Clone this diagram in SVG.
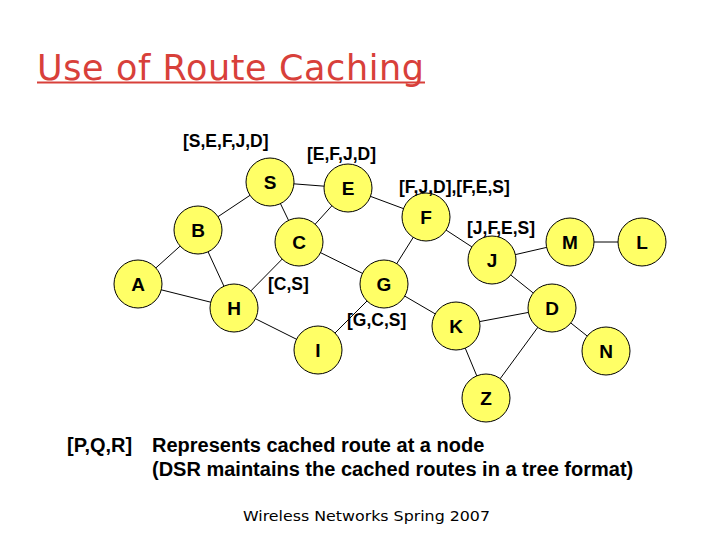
<svg xmlns="http://www.w3.org/2000/svg" width="720" height="540" viewBox="0 0 720 540">
<style>
.edge{stroke:#000;stroke-width:1}
.node circle{fill:#ffff66;stroke:#000;stroke-width:1}
.node text{font-family:"Liberation Sans",Arial,sans-serif;font-weight:bold;font-size:19px;text-anchor:middle;fill:#000}
.lbl{font-family:"Liberation Sans",Arial,sans-serif;font-weight:bold;font-size:17.5px;fill:#000}
.note{font-family:"Liberation Sans",Arial,sans-serif;font-weight:bold;font-size:20px;fill:#000}
</style>
<rect width="720" height="540" fill="#fff"/>
<text x="37" y="80" font-family="DejaVu Sans,Verdana,sans-serif" font-size="35" fill="#d8403a" textLength="387" lengthAdjust="spacing">Use of Route Caching</text>
<rect x="37" y="81.5" width="388" height="2" fill="#d8403a"/>
<g id="connectors" class="edge">
<line x1="270" y1="182" x2="348" y2="188"/>
<line x1="270" y1="182" x2="198" y2="230"/>
<line x1="270" y1="182" x2="299" y2="242"/>
<line x1="348" y1="188" x2="299" y2="242"/>
<line x1="348" y1="188" x2="426" y2="217"/>
<line x1="198" y1="230" x2="138" y2="284"/>
<line x1="198" y1="230" x2="234" y2="308"/>
<line x1="138" y1="284" x2="234" y2="308"/>
<line x1="234" y1="308" x2="299" y2="242"/>
<line x1="234" y1="308" x2="318" y2="350"/>
<line x1="299" y1="242" x2="384" y2="284"/>
<line x1="426" y1="217" x2="384" y2="284"/>
<line x1="426" y1="217" x2="492" y2="260"/>
<line x1="492" y1="260" x2="570" y2="242"/>
<line x1="570" y1="242" x2="642" y2="242"/>
<line x1="492" y1="260" x2="552" y2="308"/>
<line x1="384" y1="284" x2="456" y2="326"/>
<line x1="318" y1="350" x2="384" y2="284"/>
<line x1="456" y1="326" x2="552" y2="308"/>
<line x1="552" y1="308" x2="606" y2="351"/>
<line x1="456" y1="326" x2="486" y2="398"/>
<line x1="552" y1="308" x2="486" y2="398"/>
</g>
<g id="node-S" class="node"><circle cx="270" cy="182" r="24"/><text x="270" y="189">S</text></g>
<g id="node-E" class="node"><circle cx="348" cy="188" r="24"/><text x="348" y="195">E</text></g>
<g id="node-F" class="node"><circle cx="426" cy="217" r="24"/><text x="426" y="224">F</text></g>
<g id="node-B" class="node"><circle cx="198" cy="230" r="24"/><text x="198" y="237">B</text></g>
<g id="node-C" class="node"><circle cx="299" cy="242" r="24"/><text x="299" y="249">C</text></g>
<g id="node-J" class="node"><circle cx="492" cy="260" r="24"/><text x="492" y="267">J</text></g>
<g id="node-M" class="node"><circle cx="570" cy="242" r="24"/><text x="570" y="249">M</text></g>
<g id="node-L" class="node"><circle cx="642" cy="242" r="24"/><text x="642" y="249">L</text></g>
<g id="node-A" class="node"><circle cx="138" cy="284" r="24"/><text x="138" y="291">A</text></g>
<g id="node-G" class="node"><circle cx="384" cy="284" r="24"/><text x="384" y="291">G</text></g>
<g id="node-H" class="node"><circle cx="234" cy="308" r="24"/><text x="234" y="315">H</text></g>
<g id="node-D" class="node"><circle cx="552" cy="308" r="24"/><text x="552" y="315">D</text></g>
<g id="node-K" class="node"><circle cx="456" cy="326" r="24"/><text x="456" y="333">K</text></g>
<g id="node-I" class="node"><circle cx="318" cy="350" r="24"/><text x="318" y="357">I</text></g>
<g id="node-N" class="node"><circle cx="606" cy="351" r="24"/><text x="606" y="358">N</text></g>
<g id="node-Z" class="node"><circle cx="486" cy="398" r="24"/><text x="486" y="405">Z</text></g>
<g id="labels">
<text class="lbl" x="183" y="147">[S,E,F,J,D]</text>
<text class="lbl" x="307" y="160">[E,F,J,D]</text>
<text class="lbl" x="399" y="193">[F,J,D],[F,E,S]</text>
<text class="lbl" x="467" y="234">[J,F,E,S]</text>
<text class="lbl" x="268" y="290">[C,S]</text>
<text class="lbl" x="347" y="326">[G,C,S]</text>
</g>
<text class="note" x="67" y="452">[P,Q,R]</text>
<text class="note" x="152" y="452">Represents cached route at a node</text>
<text class="note" x="152" y="476">(DSR maintains the cached routes in a tree format)</text>
<text x="243" y="521" font-family="DejaVu Sans,Verdana,sans-serif" font-size="14.5" fill="#000" textLength="247" lengthAdjust="spacingAndGlyphs">Wireless Networks Spring 2007</text>
</svg>
